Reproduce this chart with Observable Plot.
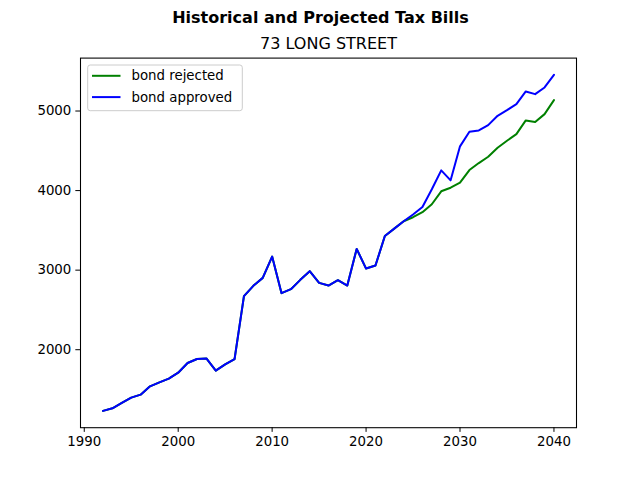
<!DOCTYPE html>
<html><head><meta charset="utf-8">
<script src="https://cdn.jsdelivr.net/npm/d3@7"></script>
<script src="https://cdn.jsdelivr.net/npm/@observablehq/plot@0.6"></script>
<style>body{margin:0;background:#fff;} #chart svg{font-family:"DejaVu Sans",sans-serif;}</style>
</head><body><div id="chart"></div>
<script>
const chartTitle = "Historical and Projected Tax Bills";
const chartSubtitle = "73 LONG STREET";
const seriesNames = ["bond rejected", "bond approved"];
const seriesColors = ["green", "blue"];
const years = [1992,1993,1994,1995,1996,1997,1998,1999,2000,2001,2002,2003,2004,2005,2006,2007,2008,2009,2010,2011,2012,2013,2014,2015,2016,2017,2018,2019,2020,2021,2022,2023,2024,2025,2026,2027,2028,2029,2030,2031,2032,2033,2034,2035,2036,2037,2038,2039,2040];
const bondRejected = [1231,1264,1331,1398,1435,1540,1590,1636,1711,1833,1883,1891,1737,1816,1883,2674,2803,2903,3171,2711,2761,2878,2987,2840,2807,2874,2807,3267,3020,3058,3430,3522,3615,3665,3728,3828,3991,4036,4099,4258,4346,4425,4538,4626,4710,4882,4861,4961,5137];
const bondApproved = [1231,1264,1331,1398,1435,1540,1590,1636,1711,1833,1883,1891,1737,1816,1883,2674,2803,2903,3171,2711,2761,2878,2987,2840,2807,2874,2807,3267,3020,3058,3430,3522,3615,3700,3794,4016,4254,4129,4556,4739,4756,4823,4940,5011,5086,5246,5212,5296,5454];
const xTicks = [1990,2000,2010,2020,2030,2040];
const yTicks = [2000,3000,4000,5000];

const rows = [];
years.forEach((y, i) => rows.push({year: y, value: bondRejected[i], series: seriesNames[0]}));
years.forEach((y, i) => rows.push({year: y, value: bondApproved[i], series: seriesNames[1]}));

const allVals = bondRejected.concat(bondApproved);
const ymin = d3.min(allVals), ymax = d3.max(allVals);
const ypad = (ymax - ymin) * 0.05;
const xmin = d3.min(years), xmax = d3.max(years);
const xpad = (xmax - xmin) * 0.05;

const plot = Plot.plot({
  width: 640, height: 480,
  marginLeft: 80, marginRight: 64, marginTop: 57.6, marginBottom: 52.8,
  style: {fontSize: "13.33px", fontFamily: "DejaVu Sans, sans-serif", background: "white", color: "black"},
  x: {domain: [xmin - xpad, xmax + xpad], label: null},
  y: {domain: [ymin - ypad, ymax + ypad], label: null},
  color: {domain: seriesNames, range: seriesColors},
  marks: [
    Plot.axisX({ticks: xTicks, tickFormat: d => String(d), tickSize: 4.67, tickPadding: 4.5, label: null, stroke: "black"}),
    Plot.axisY({ticks: yTicks, tickFormat: d => String(d), tickSize: 4.67, tickPadding: 4.5, label: null, stroke: "black"}),
    Plot.line(rows, {x: "year", y: "value", z: "series", stroke: "series", strokeWidth: 2}),
    Plot.frame({stroke: "black", strokeWidth: 1.07}),
    Plot.text([chartTitle], {text: d => d, frameAnchor: "top", dx: -8, dy: -40.6, lineAnchor: "middle", fontSize: 16, fontWeight: "bold", fill: "black"}),
    Plot.text([chartSubtitle], {text: d => d, frameAnchor: "top", dy: -13.8, lineAnchor: "middle", fontSize: 16, fill: "black"})
  ]
});
document.getElementById("chart").appendChild(plot);

// Legend (matplotlib style, upper left)
const svg = d3.select(plot);
const lg = svg.append("g").attr("text-anchor", "start");
lg.append("rect").attr("x", 87.7).attr("y", 65).attr("width", 154.6).attr("height", 45.7)
  .attr("rx", 2.5).attr("fill", "white").attr("fill-opacity", 0.8).attr("stroke", "#cccccc").attr("stroke-width", 1);
seriesNames.forEach((name, i) => {
  const cy = 75.8 + i * 21.3;
  lg.append("line").attr("x1", 92).attr("x2", 120.5).attr("y1", cy).attr("y2", cy)
    .attr("stroke", seriesColors[i]).attr("stroke-width", 2);
  lg.append("text").attr("x", 131.5).attr("y", cy).attr("dy", "0.35em").attr("text-anchor", "start")
    .attr("font-size", "13.33px").attr("fill", "black").text(name);
});
</script>
</body></html>
